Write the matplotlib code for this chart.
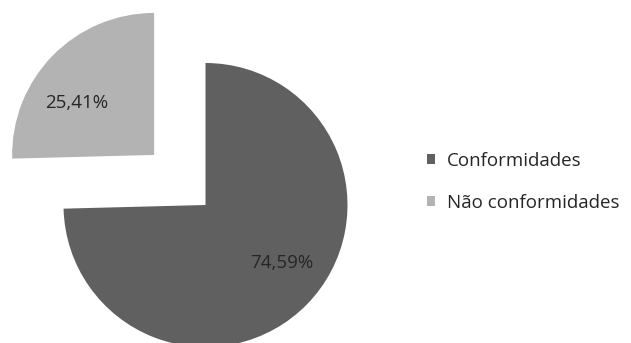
import numpy as np
import matplotlib
matplotlib.use("Agg")
import matplotlib.pyplot as plt
from matplotlib.patches import Patch

categories = ["Conformidades", "Não conformidades"]
values = [74.59, 25.41]
pct_labels = ["74,59%", "25,41%"]
colors = ["#606060", "#b3b3b3"]

W, H = 631, 343
fig = plt.figure(figsize=(W / 100, H / 100), dpi=100)
ax = fig.add_axes([0, 0, 1, 1])

cx, cy, r = 205.5, H - 205, 142
wedges, _ = ax.pie(values, colors=colors, startangle=90, counterclock=False,
                   center=(cx, cy), radius=r, explode=[0, 0.505 * r],
                   wedgeprops=dict(linewidth=0), frame=True)
ax.set_xlim(0, W)
ax.set_ylim(0, H)
ax.set_aspect("equal")
ax.axis("off")

# label placement (angle in degrees, distance fraction of radius) per wedge
label_ang = [-37, 146]
label_dist = [0.675, 0.66]
for w, lab, a, d in zip(wedges, pct_labels, label_ang, label_dist):
    x0, y0 = w.center
    ax.text(x0 + d * r * np.cos(np.radians(a)), y0 + d * r * np.sin(np.radians(a)),
            lab, ha="center", va="center", fontsize=13.5, color="#262626",
            family="Open Sans")

handles = [Patch(facecolor=c, edgecolor="none") for c in colors]
leg = fig.legend(handles, categories, loc="center left",
                 bbox_to_anchor=(427 / W, 1 - 181.5 / H), frameon=False,
                 prop=dict(family="Open Sans", size=13.5), handlelength=0.45,
                 handleheight=0.45, handletextpad=0.6, labelspacing=1.28,
                 borderpad=0, borderaxespad=0)
for t in leg.get_texts():
    t.set_color("#262626")

fig.savefig("out.png", dpi=100)
